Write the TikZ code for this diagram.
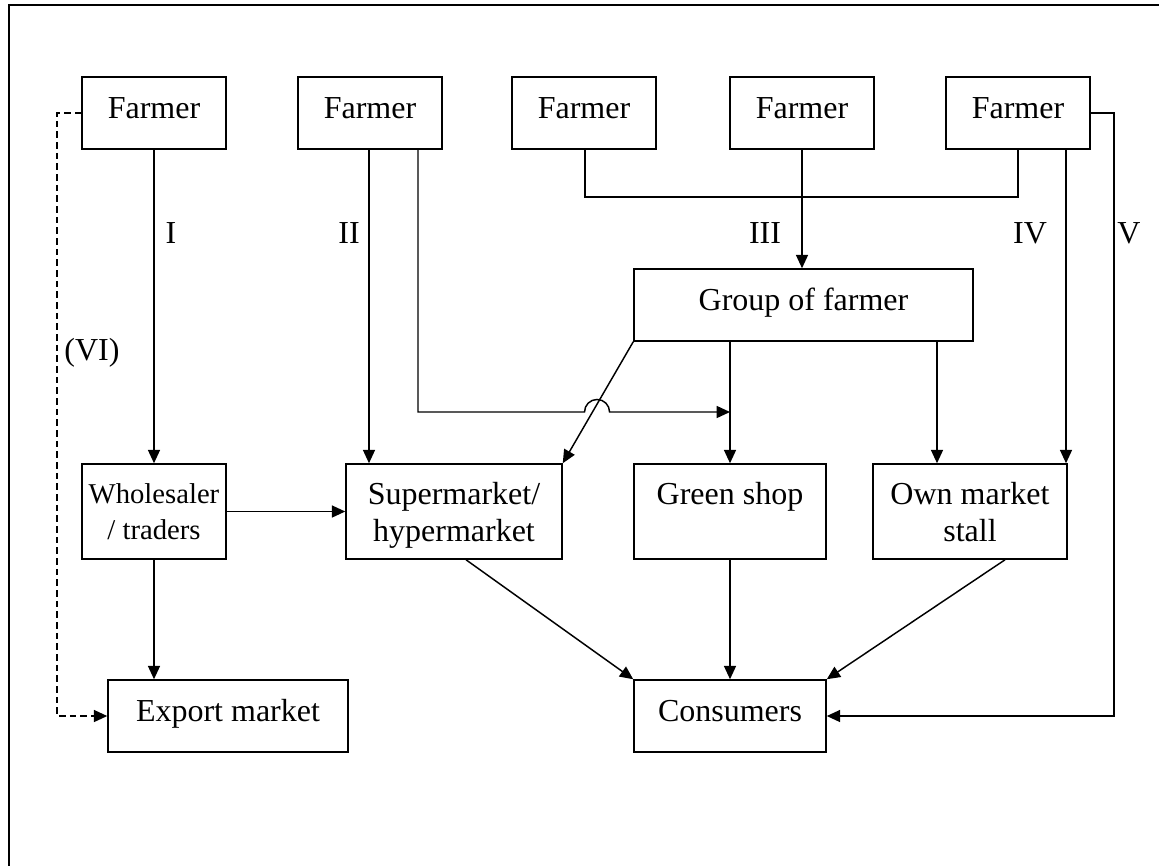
\documentclass[tikz,border=0pt]{standalone}
\usepackage{fontspec}
\setmainfont{Liberation Serif}
\usetikzlibrary{arrows.meta}
\begin{document}
\begin{tikzpicture}[x=0.75pt,y=-0.75pt,
  font=\fontsize{24pt}{27.6pt}\selectfont,
  box/.style={draw, line width=1.15pt, inner sep=0pt, align=center},
  one/.style={box, minimum height=54pt, text height=16pt, text depth=7.5pt},
  two/.style={box, minimum height=71.25pt, text depth=0pt},
  conn/.style={line width=1.1pt, -{Triangle[length=10pt,width=9pt]}},
  plain/.style={line width=1.1pt},
  dsh/.style={line width=1.1pt, dash pattern=on 5pt off 3pt, -{Triangle[length=10pt,width=9pt]}},
  lbl/.style={anchor=base, inner sep=0pt}]
\useasboundingbox (0,0) rectangle (1159,865);
\draw[line width=1.3pt] (9,870) -- (9,5) -- (1165,5);

% farmers
\node[one, minimum width=108pt] (f1) at (154,113) {Farmer};
\node[one, minimum width=108pt] (f2) at (370,113) {Farmer};
\node[one, minimum width=108pt] (f3) at (584,113) {Farmer};
\node[one, minimum width=108pt] (f4) at (802,113) {Farmer};
\node[one, minimum width=108pt] (f5) at (1018,113) {Farmer};

\node[one, minimum width=254.25pt] (grp) at (803.5,305) {Group of farmer};

\node[two, minimum width=108pt, font=\fontsize{21.5pt}{27.6pt}\selectfont] (whs) at (154,511.5) {Wholesaler\\/ traders};
\node[two, minimum width=162pt] (sup) at (454,511.5) {Supermarket/\\hypermarket};
\node[two, minimum width=144pt] (grn) at (730,511.5) {Green shop\\\mbox{}};
\node[two, minimum width=145.5pt] (own) at (970,511.5) {Own market\\stall};

\node[one, minimum width=180pt] (exp) at (228,716) {Export market};
\node[one, minimum width=144pt] (con) at (730,716) {Consumers};

% channel I
\draw[conn] (f1.south) -- (whs.north);
% channel II
\draw[conn] (f2.south -| 369,0) -- (sup.north -| 369,0);
\coordinate (jl) at (584.5,412);
\draw[conn] (f2.south -| 418,0) -- (418,412) -- (jl)
  arc[start angle=180, end angle=0, radius=9.4pt] -- (grn.north |- 0,412);
% channel III
\draw[plain] (f3.south -| 585,0) -- (585,197) -- (1018,197) -- (f5.south);
\draw[conn] (f4.south) -- (grp.north -| f4.south);
\draw[conn] (grp.south west) -- (sup.north east);
\draw[conn] (grp.south -| grn.north) -- (grn.north);
\draw[conn] (grp.south -| 937,0) -- (own.north -| 937,0);
% channel IV
\draw[conn] (f5.south -| 1066,0) -- (own.north -| 1066,0);
% channel V
\draw[conn] (f5.east) -- (1114,113) -- (1114,716) -- (con.east);
% channel VI
\draw[dsh] (f1.west) -- (57,113) -- (57,716) -- (exp.west);

% wholesaler
\draw[conn] (whs.east) -- (sup.west);
\draw[conn] (whs.south) -- (exp.north -| whs.south);

% to consumers
\draw[conn] (sup.south -| 466,0) -- (con.north west);
\draw[conn] (grn.south) -- (con.north);
\draw[conn] (own.south -| 1005,0) -- (con.north east);

% labels
\node[lbl] (lI) at (171,243) {I};
\node[lbl] (lII) at (349,243) {II};
\node[lbl] (lIII) at (765,243) {III};
\node[lbl] (lIV) at (1030,243) {IV};
\node[lbl] (lV) at (1129,243) {V};
\node[lbl] (lVI) at (92,360) {(VI)};
\end{tikzpicture}
\end{document}
